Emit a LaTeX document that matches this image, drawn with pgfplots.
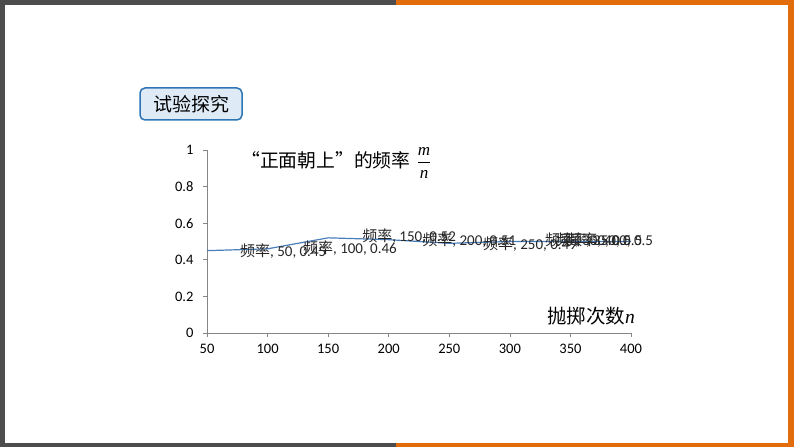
\documentclass[border=0pt]{standalone}
\usepackage{fontspec}
\setmainfont{Carlito}
\newfontfamily\cjk{Noto Sans CJK SC}
\newfontfamily\tnr{Liberation Serif}
\usepackage{pgfplots}
\pgfplotsset{compat=1.18}
\definecolor{sgray}{HTML}{4D4D4D}
\definecolor{sorange}{HTML}{E36C0A}
\definecolor{lineblue}{HTML}{4A7EBB}
\definecolor{boxblue}{HTML}{2E75B6}
\definecolor{boxfill}{HTML}{DEEBF7}
\definecolor{axgray}{HTML}{868686}
\definecolor{lblgray}{HTML}{262626}
\newcommand{\pl}[1]{{\cjk 频率}, #1}
\begin{document}
\begin{tikzpicture}[x=1pt,y=1pt]
\useasboundingbox (0,0) rectangle (794,447);
\fill[white] (0,0) rectangle (794,447);
\fill[sgray] (0,0) rectangle (5,447);
\fill[sgray] (0,442) rectangle (396,447);
\fill[sgray] (0,0) rectangle (396,4);
\fill[sorange] (396,442) rectangle (794,447);
\fill[sorange] (396,0) rectangle (794,4);
\fill[sorange] (788,0) rectangle (794,447);
\draw[boxblue, line width=1.5pt, fill=boxfill, rounded corners=5pt] (140,327) rectangle (242,359);
\node at (191,343) {\fontsize{19}{22}\selectfont\cjk 试验探究};
\node[anchor=west, inner sep=0pt] at (241,287) {\fontsize{18.8}{20}\selectfont\cjk “正面朝上”的频率};
\node[inner sep=0pt] at (424,284) {\fontsize{17}{20}\selectfont$\displaystyle\frac{\mbox{\tnr\itshape m}}{\mbox{\tnr\itshape n}}$};
\node[anchor=east, inner sep=0pt] at (635,131) {\fontsize{19.5}{21}\selectfont\cjk 抛掷次数\tnr\itshape n};
\begin{axis}[
  at={(207pt,114pt)}, anchor=south west,
  scale only axis, width=424pt, height=183pt,
  xmin=50, xmax=400, ymin=0, ymax=1,
  axis x line*=bottom, axis y line*=left,
  axis line style={draw=axgray, line width=0.8pt, -},
  xtick={50,100,...,400},
  ytick={0,0.2,0.4,0.6,0.8,1},
  yticklabels={0,0.2,0.4,0.6,0.8,1},
  tick align=outside, major tick length=4pt,
  tick style={draw=axgray, line width=0.6pt},
  /pgf/number format/assume math mode=true,
  ticklabel style={font=\fontsize{14.5}{16}\selectfont, text=black},
  xticklabel style={yshift=-4pt},
  yticklabel style={xshift=-6pt},
  clip=false,
]
\addplot[lineblue, line width=1.2pt, mark=none] coordinates {
  (50,0.45) (100,0.46) (150,0.52) (200,0.51) (250,0.49) (300,0.50) (350,0.50) (400,0.50)
};
\begin{scope}[every node/.style={anchor=west, inner sep=0pt, text=lblgray, font=\fontsize{15}{17}\selectfont}]
\node at (axis cs:77.2,0.448) {\pl{50, 0.45}};
\node at (axis cs:129.2,0.464) {\pl{100, 0.46}};
\node at (axis cs:178,0.53) {\pl{150, 0.52}};
\node at (axis cs:227.7,0.508) {\pl{200, 0.51}};
\node at (axis cs:277.8,0.486) {\pl{250, 0.49}};
\node at (axis cs:329,0.508) {\pl{300, 0.5}};
\node at (axis cs:338,0.508) {\pl{350, 0.5}};
\node at (axis cs:347,0.508) {\pl{400, 0.5}};
\end{scope}
\end{axis}
\end{tikzpicture}
\end{document}
